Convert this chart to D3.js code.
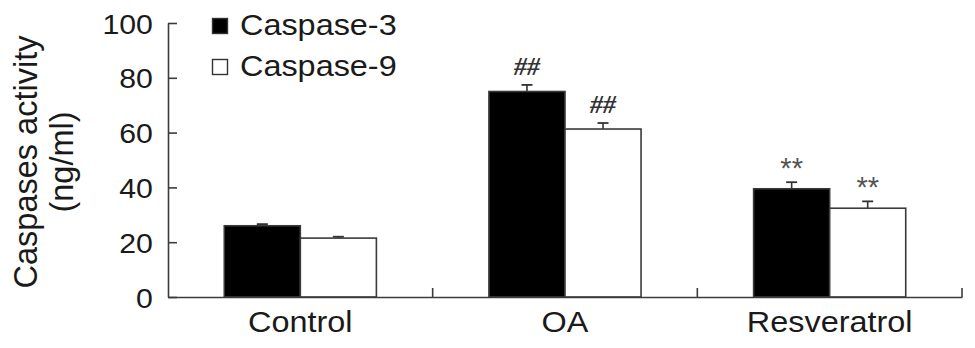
<!DOCTYPE html>
<html>
<head>
<meta charset="utf-8">
<script src="https://cdn.jsdelivr.net/npm/d3@7"></script>
<style>
  html, body { margin: 0; padding: 0; background: #fff; }
  svg { display: block; font-family: "Liberation Sans", Arial, sans-serif; }
</style>
</head>
<body>
<div id="chart"></div>
<script>
// Caspase activity bar chart (grouped bars with SEM bars)

const categories = ['Control', 'OA', 'Resveratrol'];
const series = ['Caspase-3', 'Caspase-9'];
const caspase3 = [26.0, 75.0, 39.5];
const caspase3Err = [0.6, 2.4, 2.4];
const caspase9 = [21.5, 61.3, 32.4];
const caspase9Err = [0.5, 2.2, 2.5];
const marks3 = ['', '##', '**'];
const marks9 = ['', '##', '**'];
const yTicks = [0, 20, 40, 60, 80, 100];

const width = 975, height = 348;
const margin = { top: 23, right: 13, bottom: 51, left: 168 };
const w = width - margin.left - margin.right;
const h = height - margin.top - margin.bottom;
const stretch = 'scale(1.08,1)';   // the source figure is slightly widened

const svg = d3.select('#chart').append('svg')
    .attr('width', width)
    .attr('height', height);

const g = svg.append('g')
    .attr('transform', `translate(${margin.left},${margin.top})`);

const x = d3.scaleBand().domain(categories).range([0, w]).padding(0);
const xSub = d3.scaleBand().domain(series).range([0, x.bandwidth()])
    .paddingInner(0).paddingOuter(0.74);
const y = d3.scaleLinear().domain([0, 100]).range([h, 0]);

const fills = { 'Caspase-3': '#000', 'Caspase-9': '#fff' };
const axisColor = '#3c3c3c';

// rows built from the arrays
const rows = [];
categories.forEach((c, i) => {
    rows.push({ cat: c, s: 'Caspase-3', v: caspase3[i], e: caspase3Err[i], m: marks3[i] });
    rows.push({ cat: c, s: 'Caspase-9', v: caspase9[i], e: caspase9Err[i], m: marks9[i] });
});

// Error bars (upper only) drawn behind the bars
const cap = 5.5;
rows.forEach(d => {
    const cx = x(d.cat) + xSub(d.s) + xSub.bandwidth() / 2;
    g.append('line')
        .attr('x1', cx).attr('x2', cx)
        .attr('y1', y(d.v)).attr('y2', y(d.v + d.e))
        .attr('stroke', '#333').attr('stroke-width', 1.6);
    g.append('line')
        .attr('x1', cx - cap).attr('x2', cx + cap)
        .attr('y1', y(d.v + d.e)).attr('y2', y(d.v + d.e))
        .attr('stroke', '#333').attr('stroke-width', 1.8);
});

// Bars
g.selectAll('.bar')
    .data(rows)
    .join('rect')
    .attr('class', 'bar')
    .attr('x', d => x(d.cat) + xSub(d.s))
    .attr('width', xSub.bandwidth())
    .attr('y', d => y(d.v))
    .attr('height', d => h - y(d.v))
    .attr('fill', d => fills[d.s])
    .attr('stroke', '#3a3a3a')
    .attr('stroke-width', 1.6);

// Significance marks
rows.filter(d => d.m).forEach(d => {
    const cx = x(d.cat) + xSub(d.s) + xSub.bandwidth() / 2;
    const isHash = d.m === '##';
    g.append('text')
        .attr('x', cx)
        .attr('y', y(d.v + d.e) - (isHash ? 10 : 4))
        .attr('text-anchor', 'middle')
        .style('font-family', isHash ? '"Liberation Serif", serif' : '"Liberation Sans", sans-serif')
        .style('font-style', isHash ? 'italic' : 'normal')
        .style('font-weight', isHash ? 'bold' : 'normal')
        .style('font-size', isHash ? '26px' : '29px')
        .style('fill', isHash ? '#333' : '#555')
        .text(d.m);
});

// Y axis
const yAxis = g.append('g')
    .call(d3.axisLeft(y).tickValues(yTicks).tickSizeInner(-9).tickSizeOuter(0).tickPadding(14));
yAxis.select('.domain').attr('stroke', axisColor).attr('stroke-width', 1.6);
yAxis.selectAll('.tick line').attr('stroke', axisColor).attr('stroke-width', 1.6);
yAxis.selectAll('.tick text')
    .style('font-size', '28px')
    .style('font-family', '"Liberation Sans", Arial, sans-serif')
    .attr('fill', '#1a1a1a')
    .attr('dy', '0.36em')
    .attr('transform', stretch);

// X axis (labels centred in bands, ticks at band boundaries pointing up)
const xAxis = g.append('g')
    .attr('transform', `translate(0,${h})`)
    .call(d3.axisBottom(x).tickSize(0).tickPadding(14));
xAxis.select('.domain').attr('stroke', axisColor).attr('stroke-width', 1.6);
xAxis.selectAll('.tick text')
    .style('font-size', '30px')
    .style('font-family', '"Liberation Sans", Arial, sans-serif')
    .attr('fill', '#1a1a1a')
    .attr('transform', stretch);

const bounds = categories.map(c => x(c)).concat([x(categories[categories.length - 1]) + x.bandwidth()]);
xAxis.selectAll('.bound')
    .data(bounds.slice(1))
    .join('line')
    .attr('class', 'bound')
    .attr('x1', d => d).attr('x2', d => d)
    .attr('y1', 0).attr('y2', -9)
    .attr('stroke', axisColor).attr('stroke-width', 1.6);

// Y label
const yLabel = svg.append('text')
    .attr('transform', `translate(37,162) rotate(-90)`)
    .attr('text-anchor', 'middle')
    .style('font-size', '32.5px')
    .attr('fill', '#1a1a1a');
yLabel.append('tspan').attr('x', 0).attr('y', 0).text('Caspases activity');
yLabel.append('tspan').attr('x', 0).attr('y', 36).text('(ng/ml)');

// Legend
const legend = svg.append('g').attr('transform', 'translate(212,18)');
series.forEach((s, i) => {
    const row = legend.append('g').attr('transform', `translate(0,${i * 41})`);
    row.append('rect')
        .attr('x', 0.5).attr('y', 0.5)
        .attr('width', 15).attr('height', 15)
        .attr('fill', fills[s])
        .attr('stroke', '#333').attr('stroke-width', 1.4);
    row.append('text')
        .attr('transform', `translate(28,17) ${stretch}`)
        .style('font-size', '30px')
        .attr('fill', '#1a1a1a')
        .text(s);
});
</script>
</body>
</html>
